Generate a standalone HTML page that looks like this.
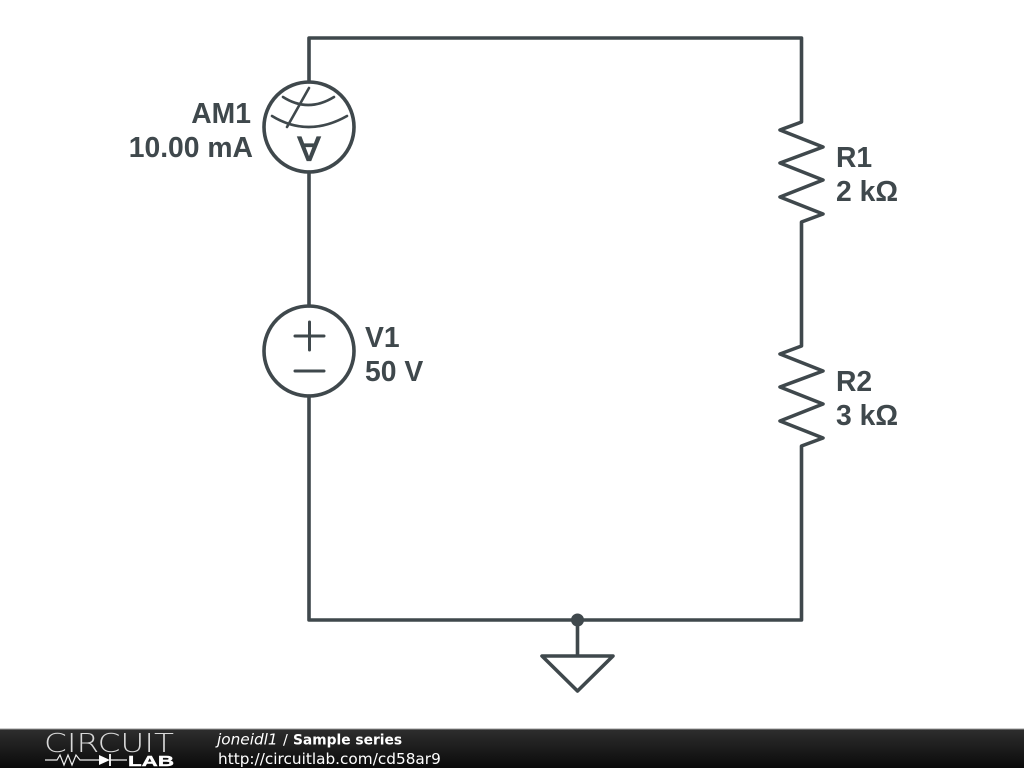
<!DOCTYPE html>
<html>
<head>
<meta charset="utf-8">
<style>
html,body{margin:0;padding:0;background:#fff;width:1024px;height:768px;overflow:hidden}
svg{display:block}
.l{font-family:"Liberation Sans",sans-serif;font-weight:bold;font-size:28.300px;fill:#3f484c}
.f{font-family:"DejaVu Sans",sans-serif;fill:#fff}
</style>
</head>
<body>
<svg width="1024" height="768" viewBox="0 0 1024 768" xmlns="http://www.w3.org/2000/svg">
<defs>
<linearGradient id="g" x1="0" y1="0" x2="0" y2="1">
<stop offset="0" stop-color="#2e2e2e"/>
<stop offset="1" stop-color="#0a0a0a"/>
</linearGradient>
</defs>
<rect width="1024" height="768" fill="#fff"/>
<g fill="none" stroke="#3f484c" stroke-width="3.6" stroke-linejoin="round" stroke-linecap="round">
<path d="M309 82V38H801.500V122L780 130L823 147L780 163L823 180L780 197L823 214L801.500 222V346L780 354L823 371L780 387L823 404L780 421L823 438L801.500 446V620H309V396M309 306V172"/>
<circle cx="309" cy="127" r="45"/>
<circle cx="309" cy="351" r="45"/>
<path d="M283 97Q308 113 334 97" stroke-width="2.600"/>
<path d="M272 116Q308 138 347 116" stroke-width="2.600"/>
<path d="M287 127L309 88" stroke-width="2.600"/>
<path d="M295 336H324M309.500 322V350M295 371H324" stroke-width="3"/>
<path d="M577.500 620V656M542 656H613L577.500 691Z"/>
</g>
<circle cx="577.500" cy="620" r="6.500" fill="#3f484c"/>
<text class="l" x="0" y="0" text-anchor="middle" transform="translate(309 137) rotate(180)" style="font-weight:normal;font-size:34px;stroke:#3f484c;stroke-width:1.300">A</text>
<text class="l" x="251" y="123" text-anchor="end">AM1</text>
<text class="l" x="253" y="157" text-anchor="end">10.00 mA</text>
<text class="l" x="365" y="347">V1</text>
<text class="l" x="365" y="381">50 V</text>
<text class="l" x="836" y="167">R1</text>
<text class="l" x="836" y="201">2 kΩ</text>
<text class="l" x="836" y="391">R2</text>
<text class="l" x="836" y="425">3 kΩ</text>

<rect x="0" y="729" width="1024" height="39" fill="url(#g)"/>
<rect x="0" y="728.500" width="1024" height="1" fill="#999"/>
<text x="44" y="752" textLength="130" lengthAdjust="spacingAndGlyphs" font-family="DejaVu Sans, sans-serif" font-weight="200" font-size="26" fill="#d8d8d8">CIRCUIT</text>
<path d="M45 760H57L60 755L64 765L68 755L72 765L76 755L80 760H99M118 760H127" fill="none" stroke="#eee" stroke-width="1.200"/>
<path d="M99 755L110 760L99 765Z" fill="#fff"/>
<path d="M110 754V766" stroke="#fff" stroke-width="1.800"/>
<path d="M110 760H118" stroke="#fff" stroke-width="1.200"/>
<text x="128" y="766" textLength="46" lengthAdjust="spacingAndGlyphs" font-family="Liberation Sans, sans-serif" font-weight="bold" font-size="15" fill="#fff" stroke="#fff" stroke-width=".4">LAB</text>
<text class="f" x="217" y="744.500" font-size="15.300" font-style="italic">joneidl1</text>
<text class="f" x="283" y="744.500" font-size="14.400">/</text>
<text class="f" x="293" y="744.500" font-size="13.800" font-weight="bold">Sample series</text>
<text class="f" x="218" y="764" font-size="15.300">http://circuitlab.com/cd58ar9</text>
</svg>
</body>
</html>
